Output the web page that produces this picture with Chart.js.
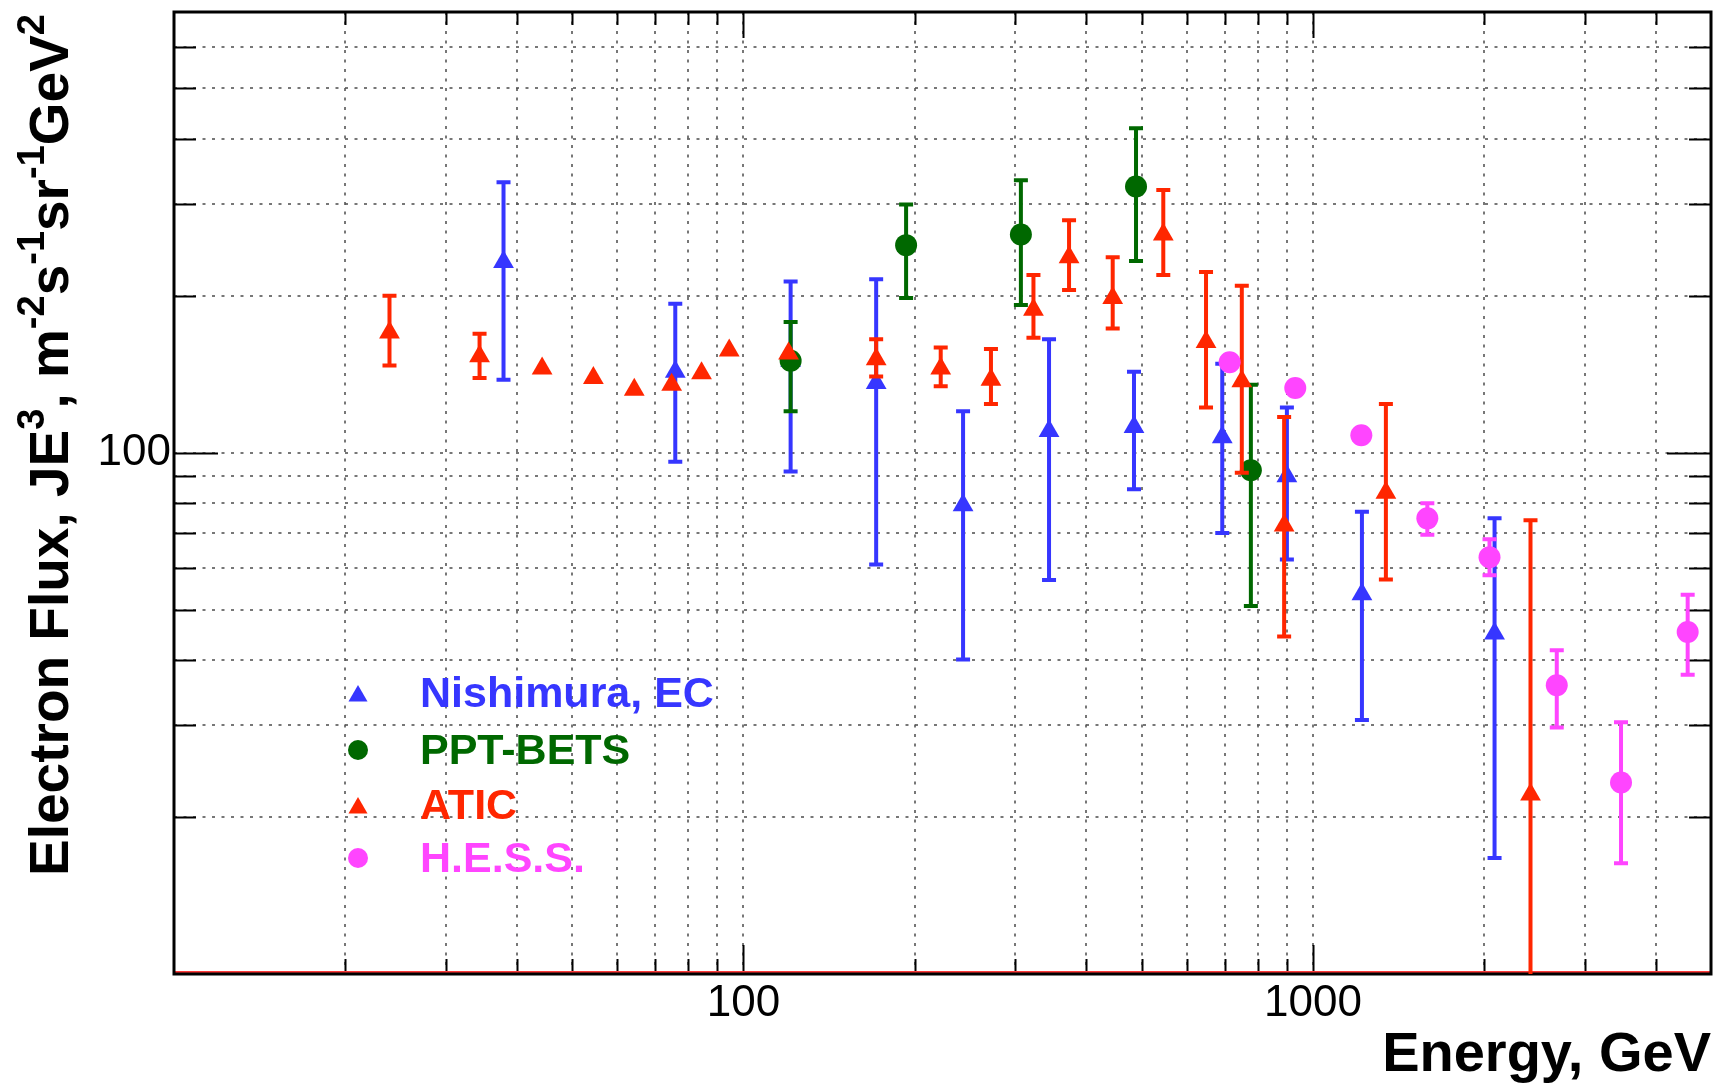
<!DOCTYPE html>
<html>
<head>
<meta charset="utf-8">
<title>Electron flux</title>
<script src="https://cdn.jsdelivr.net/npm/chart.js@4.4.0/dist/chart.umd.min.js"></script>
<style>
    html, body { margin: 0; padding: 0; background: #fff; }
    #wrap { width: 1723px; height: 1084px; }
</style>
</head>
<body>
<div id="wrap"><canvas id="flux" width="1723" height="1084"></canvas></div>
<script>
// Energy (GeV), flux and error bar ends for each experiment
const nishimuraE    = [37.9, 75.9, 121, 171, 243, 344, 485, 693, 900, 1219, 2084];
const nishimuraFlux = [232, 143, 150, 136, 79.3, 110, 112, 107, 90.1, 53.5, 45.0];
const nishimuraHigh = [330, 193, 213, 215, 120, 165, 143, 148, 122, 77.0, 74.8];
const nishimuraLow  = [138, 96, 92, 61, 40.1, 57, 85.1, 70.1, 62.4, 30.7, 16.7];

const betsE    = [121, 193, 307, 489, 778];
const betsFlux = [150, 250, 262, 324, 92.5];
const betsHigh = [178, 299, 333, 419, 135];
const betsLow  = [120, 198, 192, 233, 50.8];

const aticE    = [23.9, 34.4, 44.3, 54.5, 64.3, 74.8, 84.4, 94.4, 120, 171, 222, 272, 323, 373, 445, 546, 649, 750, 890, 1343, 2410];
const aticFlux = [170, 153, 145, 139, 132, 135, 142, 157, 155, 151, 145, 138, 188, 237, 198, 262, 163, 137, 72.5, 83.8, 22.1];
const aticHigh = [200, 169, 145, 139, 132, 135, 142, 157, 155, 165, 159, 158, 219, 279, 237, 319, 222, 209, 117, 124, 74.2];
const aticLow  = [147, 139, 145, 139, 132, 135, 142, 157, 155, 140, 134, 124, 166, 205, 173, 219, 122, 91.5, 44.4, 57.1, 8];

const hessE    = [714, 931, 1216, 1588, 2042, 2680, 3475, 4550];
const hessFlux = [149, 133, 108, 74.8, 63.0, 35.8, 23.3, 45.3];
const hessHigh = [149, 133, 108, 80.0, 68.2, 41.8, 30.4, 53.4];
const hessLow  = [149, 133, 108, 69.6, 58.2, 29.7, 16.3, 37.5];

const seriesNames = ['Nishimura, EC', 'PPT-BETS', 'ATIC', 'H.E.S.S.'];

// axis ranges, grid positions and labelled ticks
const xRange = [10, 5000];
const yRange = [10, 700];
const xGridValues = [20, 30, 40, 50, 60, 70, 80, 90, 100, 200, 300, 400, 500, 600, 700, 800, 900, 1000, 2000, 3000, 4000];
const yGridValues = [20, 30, 40, 50, 60, 70, 80, 90, 100, 200, 300, 400, 500, 600];
const xTickLabels = [100, 1000];
const yTickLabels = [100];

const COLORS = {
    blue: '#3636ff',
    green: '#006800',
    red: '#ff2600',
    magenta: '#ff45ff'
};
const FONT = '"Liberation Sans", Arial, Helvetica, sans-serif';

function toPoints(xs, ys) {
    return xs.map((x, i) => ({ x: x, y: ys[i] }));
}

// vertical error bars with caps, drawn just before each dataset's markers
const errorBarPlugin = {
    id: 'errorBars',
    beforeDatasetDraw(chart, args) {
        const ds = chart.data.datasets[args.index];
        if (!ds.errHigh) return;
        const { ctx, chartArea, scales } = chart;
        ctx.save();
        ctx.beginPath();
        ctx.rect(chartArea.left, chartArea.top, chartArea.right - chartArea.left, chartArea.bottom - chartArea.top);
        ctx.clip();
        ctx.strokeStyle = ds.backgroundColor;
        ctx.lineWidth = 4;
        ds.data.forEach((p, i) => {
            if (ds.errHigh[i] === ds.errLow[i]) return;   // error smaller than the marker
            const x = scales.x.getPixelForValue(p.x);
            const yTop = scales.y.getPixelForValue(ds.errHigh[i]);
            const yBot = scales.y.getPixelForValue(ds.errLow[i]);
            ctx.beginPath();
            ctx.moveTo(x, yTop);
            ctx.lineTo(x, yBot);
            ctx.moveTo(x - 7, yTop);
            ctx.lineTo(x + 7, yTop);
            ctx.moveTo(x - 7, yBot);
            ctx.lineTo(x + 7, yBot);
            ctx.stroke();
        });
        ctx.restore();
    }
};

// frame with inward ticks on all four sides
const framePlugin = {
    id: 'frame',
    beforeDatasetsDraw(chart) {
        const { ctx, chartArea: a, scales } = chart;
        ctx.save();
        ctx.strokeStyle = '#000';
        ctx.lineWidth = 2;
        ctx.beginPath();
        xGridValues.forEach(v => {
            const x = Math.round(scales.x.getPixelForValue(v)) + 0.5;
            const major = xTickLabels.includes(v);
            ctx.moveTo(x, a.bottom);
            ctx.lineTo(x, a.bottom - (major ? 29 : 15));
            ctx.moveTo(x, a.top);
            ctx.lineTo(x, a.top + (major ? 26 : 13));
        });
        yGridValues.forEach(v => {
            const y = Math.round(scales.y.getPixelForValue(v)) + 0.5;
            const major = yTickLabels.includes(v);
            ctx.moveTo(a.left, y);
            ctx.lineTo(a.left + (major ? 44 : 22), y);
            ctx.moveTo(a.right, y);
            ctx.lineTo(a.right - (major ? 44 : 22), y);
        });
        ctx.stroke();

        // red line running along the lower edge
        ctx.strokeStyle = '#ff3a3a';
        ctx.lineWidth = 2;
        ctx.beginPath();
        ctx.moveTo(a.left, a.bottom - 2);
        ctx.lineTo(a.right, a.bottom - 2);
        ctx.stroke();

        ctx.strokeStyle = '#000';
        ctx.lineWidth = 3;
        ctx.strokeRect(a.left, a.top, a.right - a.left, a.bottom - a.top);
        ctx.restore();
    }
};

function drawMarker(ctx, style, x, y, r) {
    ctx.beginPath();
    if (style === 'triangle') {
        ctx.moveTo(x, y - r);
        ctx.lineTo(x + r * 0.866, y + r * 0.5);
        ctx.lineTo(x - r * 0.866, y + r * 0.5);
        ctx.closePath();
    } else {
        ctx.arc(x, y, r, 0, Math.PI * 2);
    }
    ctx.fill();
}

// rotated y title with superscripts, x title, and the in-plot legend
const labelPlugin = {
    id: 'labels',
    afterDraw(chart) {
        const { ctx, chartArea: a } = chart;
        ctx.save();

        ctx.fillStyle = '#000';
        ctx.font = 'bold 56px ' + FONT;
        ctx.textAlign = 'right';
        ctx.textBaseline = 'alphabetic';
        ctx.fillText('Energy, GeV', a.right, 1071);

        const parts = [
            ['Electron Flux, JE', false], ['3', true], [', m', false], ['-2', true],
            ['s', false], ['-1', true], ['sr', false], ['-1', true], ['GeV', false], ['2', true]
        ];
        const mainFont = 'bold 55px ' + FONT;
        const supFont = 'bold 38px ' + FONT;
        let total = 0;
        parts.forEach(p => {
            ctx.font = p[1] ? supFont : mainFont;
            total += ctx.measureText(p[0]).width;
        });
        ctx.translate(68, a.top + 2 + total);
        ctx.rotate(-Math.PI / 2);
        ctx.textAlign = 'left';
        let pos = 0;
        parts.forEach(p => {
            ctx.font = p[1] ? supFont : mainFont;
            ctx.fillText(p[0], pos, p[1] ? -24 : 0);
            pos += ctx.measureText(p[0]).width;
        });
        ctx.restore();

        ctx.save();
        const rows = [693, 750, 805, 858];
        chart.data.datasets.forEach((ds, i) => {
            ctx.fillStyle = ds.backgroundColor;
            drawMarker(ctx, ds.pointStyle, 358, rows[i] + (ds.pointStyle === 'triangle' ? 3 : 0), ds.pointStyle === 'triangle' ? 11 : 10);
            ctx.font = 'bold 43px ' + FONT;
            ctx.textAlign = 'left';
            ctx.textBaseline = 'middle';
            ctx.fillText(ds.label, 420, rows[i] + 2);
        });
        ctx.restore();
    }
};

function logAxis(range, gridValues, tickLabels, extra) {
    return Object.assign({
        type: 'logarithmic',
        min: range[0],
        max: range[1],
        afterBuildTicks: scale => {
            scale.ticks = gridValues.map(v => ({ value: v }));
        },
        ticks: {
            autoSkip: false,
            maxRotation: 0,
            minRotation: 0,
            color: '#000',
            font: { family: FONT, size: 44 },
            callback: v => tickLabels.includes(v) ? String(v) : ''
        },
        grid: {
            color: 'rgba(85,85,85,0.8)',
            lineWidth: 2,
            drawTicks: false
        },
        border: { display: false, dash: [3, 6.5] }
    }, extra);
}

function zeroPadding(scale) {
    scale.paddingLeft = 0;
    scale.paddingRight = 0;
    scale.paddingTop = 0;
    scale.paddingBottom = 0;
}

new Chart(document.getElementById('flux'), {
    type: 'scatter',
    data: {
        datasets: [
            {
                label: seriesNames[0],
                data: toPoints(nishimuraE, nishimuraFlux),
                errHigh: nishimuraHigh,
                errLow: nishimuraLow,
                pointStyle: 'triangle',
                pointRadius: 12,
                backgroundColor: COLORS.blue,
                order: 4
            },
            {
                label: seriesNames[1],
                data: toPoints(betsE, betsFlux),
                errHigh: betsHigh,
                errLow: betsLow,
                pointStyle: 'circle',
                pointRadius: 11,
                backgroundColor: COLORS.green,
                order: 3
            },
            {
                label: seriesNames[2],
                data: toPoints(aticE, aticFlux),
                errHigh: aticHigh,
                errLow: aticLow,
                pointStyle: 'triangle',
                pointRadius: 12,
                backgroundColor: COLORS.red,
                order: 2
            },
            {
                label: seriesNames[3],
                data: toPoints(hessE, hessFlux),
                errHigh: hessHigh,
                errLow: hessLow,
                pointStyle: 'circle',
                pointRadius: 11,
                backgroundColor: COLORS.magenta,
                order: 1
            }
        ]
    },
    options: {
        responsive: false,
        animation: false,
        devicePixelRatio: 1,
        layout: { padding: { left: 0, top: 11, right: 12, bottom: 0 } },
        elements: { point: { borderWidth: 0, hoverRadius: 12 } },
        plugins: {
            legend: { display: false },
            tooltip: { enabled: false }
        },
        scales: {
            x: logAxis(xRange, xGridValues, xTickLabels, {
                position: 'bottom',
                afterFit: scale => { scale.height = 110; zeroPadding(scale); }
            }),
            y: logAxis(yRange, yGridValues, yTickLabels, {
                position: 'left',
                afterFit: scale => { scale.width = 174; zeroPadding(scale); }
            })
        }
    },
    plugins: [errorBarPlugin, framePlugin, labelPlugin]
});
</script>
</body>
</html>
